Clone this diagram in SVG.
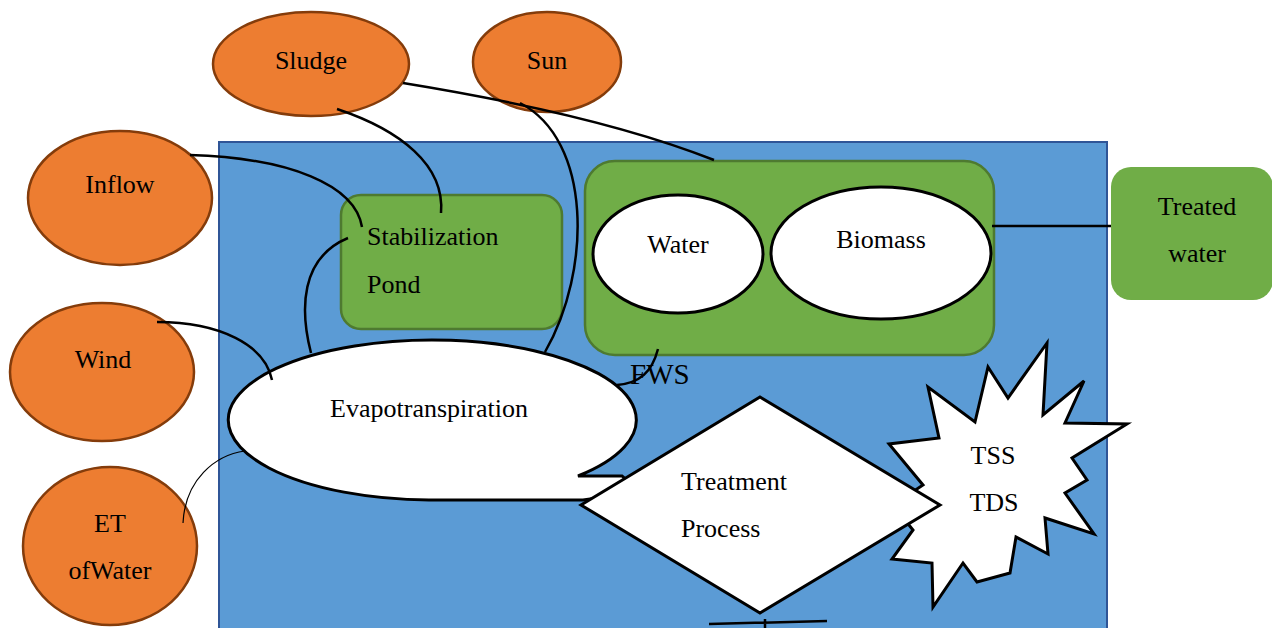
<svg xmlns="http://www.w3.org/2000/svg" width="1272" height="628" viewBox="0 0 1272 628">
<style>
.t{font-family:"Liberation Serif","Times New Roman",serif;font-size:26px;fill:#000}
.m{text-anchor:middle}
.or{fill:#ED7D31;stroke:#843C0B;stroke-width:2.5}
.gr{fill:#70AD47;stroke:#4E7A30;stroke-width:2.5}
.wh{fill:#fff;stroke:#000;stroke-width:3}
.c{fill:none;stroke:#000;stroke-width:2.5}
</style>
<rect width="1272" height="628" fill="#fff"/>
<g id="fws-area"><rect x="219" y="142" width="888" height="500" fill="#5B9BD5" stroke="#2F5597" stroke-width="2"/></g>
<g id="sludge"><ellipse class="or" cx="311" cy="64" rx="98" ry="52"/><text class="t m" x="311" y="69">Sludge</text></g>
<g id="sun"><ellipse class="or" cx="547" cy="62" rx="74" ry="50"/><text class="t m" x="547" y="69">Sun</text></g>
<g id="inflow"><ellipse class="or" cx="120" cy="198" rx="92" ry="67"/><text class="t m" x="120" y="193">Inflow</text></g>
<g id="wind"><ellipse class="or" cx="102" cy="372" rx="92" ry="69"/><text class="t m" x="103" y="368">Wind</text></g>
<g id="et-water"><ellipse class="or" cx="110" cy="546" rx="87" ry="79"/><text class="t m" x="110" y="532">ET</text><text class="t m" x="110" y="579">ofWater</text></g>
<g id="stabilization-pond"><rect class="gr" x="341" y="195" width="221" height="134" rx="20"/><text class="t" x="367" y="245">Stabilization</text><text class="t" x="367" y="293">Pond</text></g>
<g id="fws-box"><rect class="gr" x="585" y="161" width="409" height="194" rx="30"/></g>
<g id="water"><ellipse class="wh" cx="678" cy="254" rx="85" ry="59"/><text class="t m" x="678" y="253">Water</text></g>
<g id="biomass"><ellipse class="wh" cx="881" cy="253" rx="110" ry="66"/><text class="t m" x="881" y="248">Biomass</text></g>
<g id="treated-water"><rect x="1111" y="167" width="162" height="133" rx="20" fill="#70AD47"/><text class="t m" x="1197" y="215">Treated</text><text class="t m" x="1197" y="262">water</text></g>
<g id="fws-label"><text class="t" x="630" y="384" style="font-size:29px">FWS</text></g>
<g id="evapotranspiration"><path class="wh" d="M578,476 L622,476 L640,492 L583,500 L429,500 A204 80 0 1 1 578,476 Z"/><text class="t m" x="429" y="417">Evapotranspiration</text></g>
<g id="tss-tds"><polygon class="wh" points="1047,343 1043,415 1084,381 1065,423 1127,424 1072,458 1087,480 1065,493 1094,534 1045,518 1048,554 1016,537 1010,573 977,582 963,563 933,607 932,563 892,559 913,530 893,505 923,485 889,444 939,438 928,387 975,422 988,367 1008,398"/><text class="t m" x="993" y="464">TSS</text><text class="t m" x="994" y="511">TDS</text></g>
<g id="treatment-process"><polygon class="wh" points="760,397 940,505 760,613 581,505"/><text class="t" x="681" y="490">Treatment</text><text class="t" x="681" y="537">Process</text></g>
<g id="connectors">
<path class="c" d="M190,155 C290,158 355,185 362,227"/>
<path class="c" d="M337,109 C400,130 445,165 441,213"/>
<path class="c" d="M403,83 Q600,115 714,160"/>
<path class="c" d="M520,103 C592,140 592,270 545,352"/>
<path class="c" d="M348,238 C300,258 300,310 311,353"/>
<path class="c" d="M157,322 C220,322 265,345 272,380"/>
<path class="c" style="stroke-width:1.2" d="M183,523 C185,480 215,455 245,451"/>
<path class="c" d="M658,349 C652,372 640,383 617,385"/>
<path class="c" d="M992,226 L1111,226"/>
<path class="c" d="M709,624 L827,621 M765,619 L765,628"/>
</g>
</svg>
